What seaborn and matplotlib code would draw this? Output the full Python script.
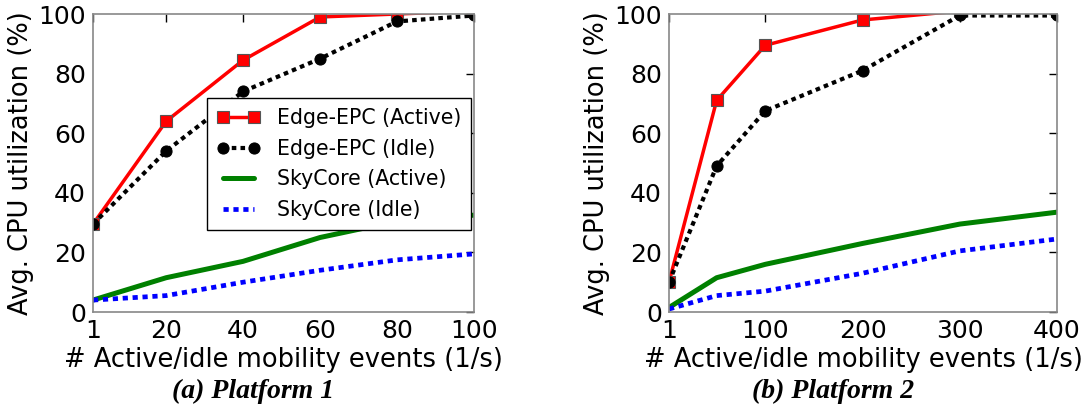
import matplotlib
matplotlib.use("Agg")
import matplotlib.pyplot as plt
import seaborn as sns
import numpy as np

# ---- data ----
x1 = [1, 20, 40, 60, 80, 100]
p1_edge_active = [29.5, 64, 84.5, 99, 100, 101]
p1_edge_idle = [29.5, 54, 74, 85, 97.5, 99.5]
p1_sky_active = [4, 11.5, 17, 25, 30.5, 32.5]
p1_sky_idle = [4, 5.5, 10, 14, 17.5, 19.5]

x2 = [1, 50, 100, 200, 300, 400]
p2_edge_active = [10, 71, 89.5, 98, 101, 101]
p2_edge_idle = [10, 49, 67.5, 81, 99.5, 99.5]
p2_sky_active = [1.5, 11.5, 16, 23, 29.5, 33.5]
p2_sky_idle = [1, 5.5, 7, 13, 20.5, 24.5]

xticks1 = [1, 20, 40, 60, 80, 100]
xticks2 = [1, 100, 200, 300, 400]
yticks = [0, 20, 40, 60, 80, 100]

labels = ["Edge-EPC (Active)", "Edge-EPC (Idle)", "SkyCore (Active)", "SkyCore (Idle)"]
captions = ["(a) Platform 1", "(b) Platform 2"]
xlabel = "# Active/idle mobility events (1/s)"
ylabel = "Avg. CPU utilization (%)"

sns.set_style("white")
plt.rcParams['font.family'] = ['DejaVu Sans']
plt.rcParams['text.color'] = 'black'
plt.rcParams['axes.labelcolor'] = 'black'
plt.rcParams['xtick.color'] = 'black'
plt.rcParams['ytick.color'] = 'black'

fig = plt.figure(figsize=(10.89, 4.09), dpi=100)
ax1 = fig.add_axes([93/1089, 1 - 312/409, (474-93)/1089, (312-14)/409])
ax2 = fig.add_axes([669/1089, 1 - 312/409, (1057-669)/1089, (312-14)/409])

DOT = (0, (1.1, 1.0))

def draw(ax, x, ea, ei, sa, si, xticks, legend=False):
    sns.lineplot(x=x, y=ea, ax=ax, color="red", lw=2.5, marker="s", markersize=9,
                 markeredgecolor="#555555", markeredgewidth=0.8, label=labels[0])
    sns.lineplot(x=x, y=ei, ax=ax, color="black", lw=3, linestyle=DOT, marker="o",
                 markersize=8, markeredgecolor="black", label=labels[1])
    sns.lineplot(x=x, y=sa, ax=ax, color="green", lw=3.6, label=labels[2])
    sns.lineplot(x=x, y=si, ax=ax, color="blue", lw=3.4, linestyle=DOT, label=labels[3])
    for ln in ax.get_lines():
        ln.set_dash_capstyle("butt")
    ax.set_xlim(x[0], x[-1])
    ax.set_ylim(0, 100)
    ax.set_xticks(xticks)
    ax.set_xticklabels([str(t) for t in xticks])
    ax.set_yticks(yticks)
    ax.tick_params(axis="both", which="both", direction="in", top=True, right=True,
                   labelsize=18, length=6, width=1, color="black", pad=5)
    for s in ax.spines.values():
        s.set_color("#888888")
        s.set_linewidth(1.2)
    ax.set_xlabel(xlabel, fontsize=18.5, labelpad=3)
    ax.set_ylabel(ylabel, fontsize=18.5, labelpad=3)
    if legend:
        leg = ax.legend(loc="upper left", bbox_to_anchor=(0.299, 0.718), borderaxespad=0,
                        fontsize=14.8, frameon=True, fancybox=False, numpoints=2,
                        handlelength=2.1, borderpad=0.5, labelspacing=0.51,
                        handletextpad=0.8)
        leg.get_frame().set_edgecolor("black")
        leg.get_frame().set_linewidth(1)
        leg.get_frame().set_alpha(1)
    else:
        lg = ax.get_legend()
        if lg is not None:
            lg.remove()

draw(ax1, x1, p1_edge_active, p1_edge_idle, p1_sky_active, p1_sky_idle, xticks1, legend=True)
draw(ax2, x2, p2_edge_active, p2_edge_idle, p2_sky_active, p2_sky_idle, xticks2, legend=False)

fig.text(253/1089, 1 - 391/409, captions[0], ha="center", va="center",
         fontsize=20, fontweight="bold", fontstyle="italic", family="Liberation Serif")
fig.text(833/1089, 1 - 391/409, captions[1], ha="center", va="center",
         fontsize=20, fontweight="bold", fontstyle="italic", family="Liberation Serif")

fig.savefig("out.png", dpi=100)
